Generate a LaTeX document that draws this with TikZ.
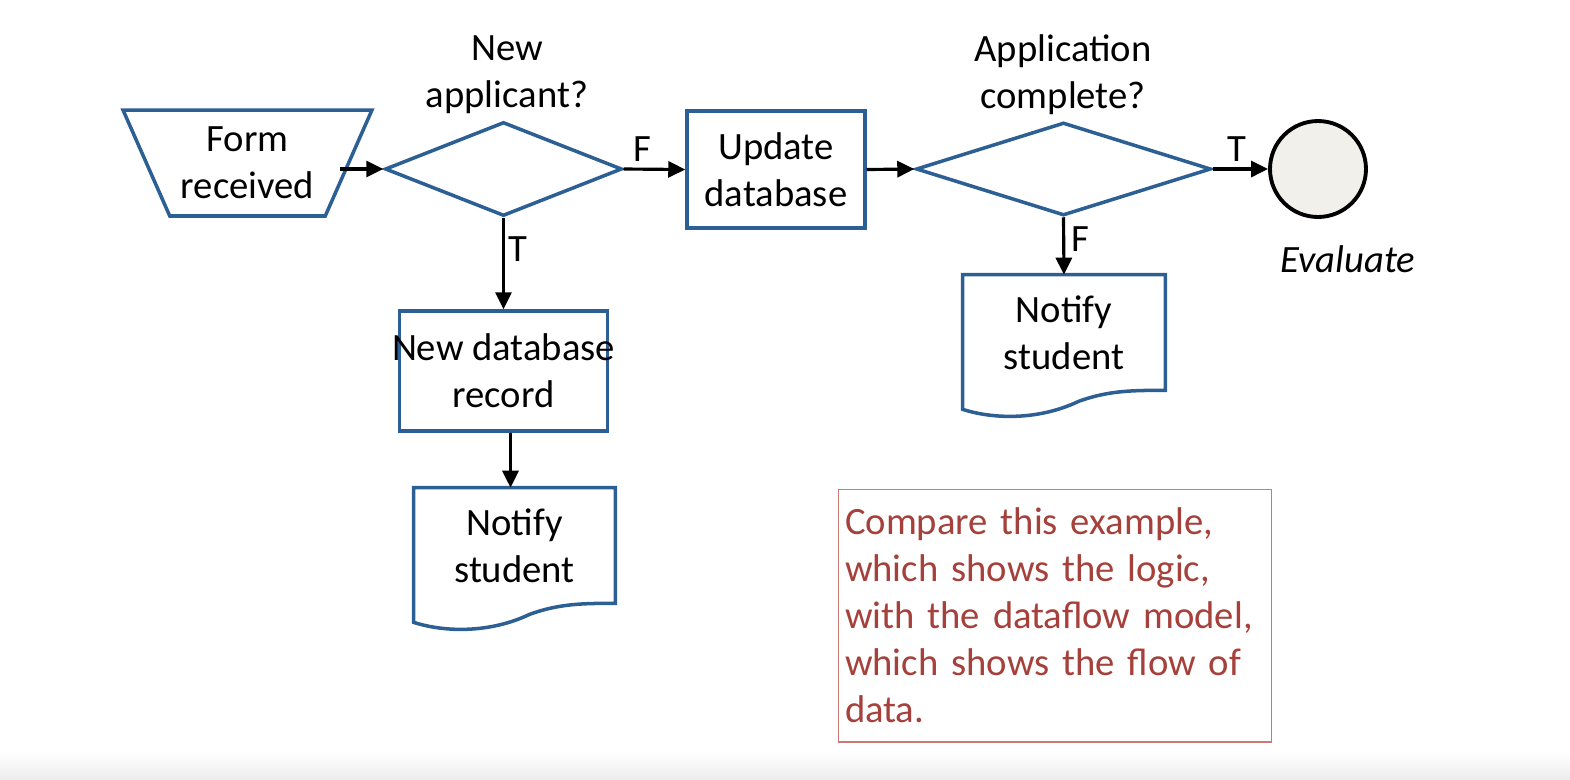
\documentclass[tikz,border=0pt]{standalone}
\usepackage{fontspec}
\setmainfont{Carlito}
\usetikzlibrary{shapes.geometric,arrows.meta}

\definecolor{flowblue}{HTML}{2C5F93}
\definecolor{notered}{HTML}{A5403B}
\definecolor{noteedge}{HTML}{C97A75}
\definecolor{endfill}{HTML}{F2F0EA}

\newcommand{\drawdoc}[1]{%
  \draw[flowline] (#1.south east) -- (#1.north east) -- (#1.north west)
    -- ([yshift=-0.38cm]#1.south west)
    .. controls ([xshift=0.62cm,yshift=-0.58cm]#1.south west) and ([xshift=1.52cm,yshift=-0.6cm]#1.south west) .. ([xshift=2.32cm,yshift=-0.22cm]#1.south west)
    .. controls ([xshift=2.92cm]#1.south west) and ([xshift=3.42cm]#1.south west) .. (#1.south east) -- cycle;}

\begin{document}
\begin{tikzpicture}[x=0.02cm,y=-0.02cm,
  font=\fontsize{22}{26.7}\selectfont,
  flowline/.style={draw=flowblue,line width=2pt,line join=miter},
  flowarrow/.style={-{Triangle[length=0.34cm,width=0.32cm]},line width=1.8pt},
  procbox/.style={rectangle,flowline,align=center,inner sep=2pt},
  decision/.style={diamond,flowline,inner sep=0pt},
  docbox/.style={rectangle,align=center,inner sep=0pt,minimum width=4.02cm,minimum height=2.3cm}]

\useasboundingbox (0,0) rectangle (1570,779);
\shade[top color=white,bottom color=black!7] (0,752) rectangle (1570,779);

\node[trapezium,shape border rotate=180,trapezium left angle=57,trapezium right angle=57,
  trapezium stretches body,flowline,align=center,inner sep=0pt,
  minimum width=4.98cm,minimum height=2.12cm] (form) at (247.5,163) {Form\\received};

\node[decision,minimum width=4.74cm,minimum height=1.88cm] (newq) at (503.5,169) {};
\node[align=center] (newqtxt) at (507,75) {New\\applicant?};

\node[procbox,minimum width=4.16cm,minimum height=2.4cm] (newrec) at (503.5,371) {\makebox[3.6cm]{New database}\\record};
\node[docbox] (notify1) at (514.5,545.5) {Notify\\student};
\drawdoc{notify1}

\node[procbox,minimum width=3.56cm,minimum height=2.34cm] (update) at (776,169.5) {Update\\database};

\node[decision,minimum width=5.9cm,minimum height=1.86cm] (doneq) at (1063.5,169) {};
\node[align=center] (doneqtxt) at (1063,75) {Application\\complete?};

\node[docbox,minimum width=4.04cm] (notify2) at (1064,332.5) {Notify\\student};
\drawdoc{notify2}

\node[circle,draw=black,fill=endfill,line width=2.2pt,minimum size=1.92cm] (evalend) at (1318,169) {};
\node (evaltxt) at (1348,259) {\textit{Evaluate}};

\draw[flowarrow] ([xshift=-0.22cm]form.east |- newq.west) -- (newq.west);
\draw[flowarrow] (newq.east) -- node[above,pos=0.3] {F} (update.west);
\draw[flowarrow] (newq.south) -- node[right,pos=0.34,inner sep=2pt] {T} (newrec.north);
\draw[flowarrow] ([xshift=-0.08cm]notify1.north |- newrec.south) -- ([xshift=-0.08cm]notify1.north);
\draw[flowarrow] (update.east) -- (doneq.west);
\draw[flowarrow] (doneq.east) -- node[above,pos=0.44] {T} (evalend.west);
\draw[flowarrow] (doneq.south) -- node[right,pos=0.38] {F} (notify2.north);

\node[draw=noteedge,line width=0.6pt,text=notered,align=left,text width=8.4cm,inner sep=0.14cm,
  minimum width=8.68cm,minimum height=5.06cm] (note) at (1055,615.5)
  {Compare this example,\\which shows the logic,\\with the dataflow model,\\which shows the flow of\\data.};
\end{tikzpicture}
\end{document}
